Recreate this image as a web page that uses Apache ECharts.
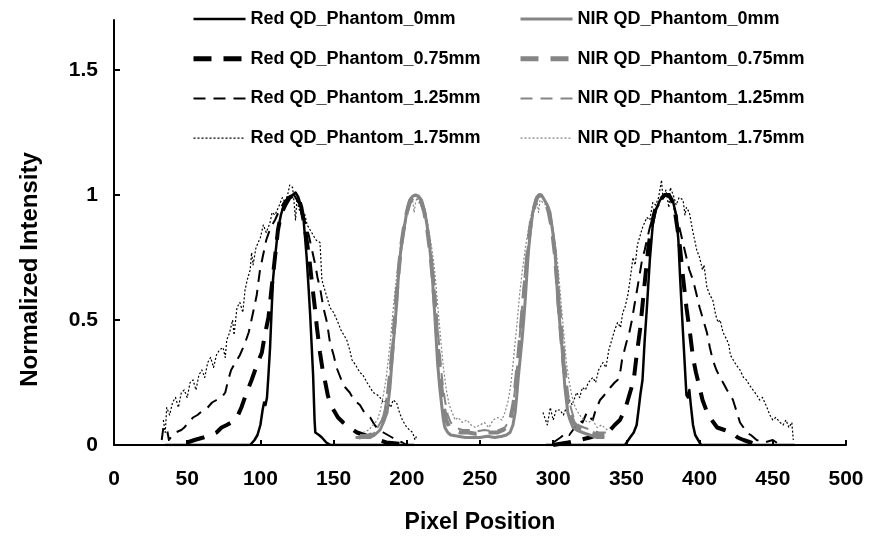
<!DOCTYPE html>
<html><head><meta charset="utf-8">
<script src="https://cdn.jsdelivr.net/npm/echarts@6/dist/echarts.min.js"></script>
<style>html,body{margin:0;padding:0;background:#fff}#c{width:872px;height:539px}</style>
</head><body><div id="c"></div>
<script>
// ---- data ----
const seriesNames = [
  'Red QD_Phantom_0mm','Red QD_Phantom_0.75mm','Red QD_Phantom_1.25mm','Red QD_Phantom_1.75mm',
  'NIR QD_Phantom_0mm','NIR QD_Phantom_0.75mm','NIR QD_Phantom_1.25mm','NIR QD_Phantom_1.75mm'
];
const yTickValues = [0, 0.5, 1, 1.5];

const red0Left = [[35,0],[60,0],[85,0],[93,0],[96,0.02],[98,0.04],[100,0.08],[101.5,0.14],[102.5,0.17],[103.5,0.16],[104.5,0.19],[105.5,0.28],[106.6,0.39],[107.6,0.53],[108.6,0.66],[110,0.75],[112,0.86],[114,0.92],[116,0.96],[119,0.99],[122,1.0],[124,1.01],[126,0.99],[128,0.95],[129.5,0.9],[130.5,0.83],[131.6,0.75],[133,0.62],[134,0.52],[135,0.4],[136,0.28],[137,0.1],[137.5,0.05],[140,0.04],[142,0.03],[145,0.01],[148,0],[170,0],[205,0]];
const red0Right = [[295,0],[330,0],[349,0],[352.5,0.03],[355,0.05],[357,0.08],[358.5,0.15],[359.5,0.2],[361,0.26],[362.5,0.42],[364,0.55],[366,0.74],[368,0.88],[370,0.94],[373,0.98],[376,1.0],[378,1.0],[380,0.99],[382,0.97],[384,0.92],[385.5,0.82],[386.6,0.68],[388,0.52],[389.5,0.36],[391,0.2],[392,0.19],[393,0.22],[394,0.16],[395.5,0.08],[397,0.04],[399,0.02],[401,0],[430,0],[465,0]];

const red075Left = [[50,0.01],[55,0.02],[61,0.03],[66,0.04],[70,0.05],[73.5,0.07],[77,0.08],[80,0.09],[84,0.11],[87,0.15],[90,0.2],[94,0.26],[97,0.31],[101,0.37],[103,0.44],[105.5,0.51],[107.5,0.62],[109,0.7],[110.5,0.78],[112,0.86],[114,0.92],[117,0.96],[120,0.99],[123,1.0],[126,0.99],[128,0.95],[130,0.88],[131.6,0.82],[133.5,0.74],[135,0.66],[137,0.56],[138.6,0.47],[140.7,0.37],[142.5,0.3],[144,0.26],[146,0.2],[148,0.16],[150,0.14],[153,0.11],[156.5,0.09],[161,0.07],[166,0.05],[171,0.04],[176,0.03],[181,0.02],[186,0.01],[195,0.005],[203,0]];
const red075Right = [[300,0],[310,0.01],[318,0.02],[325,0.03],[330,0.04],[335,0.05],[339,0.06],[342,0.08],[345.6,0.1],[348,0.13],[350,0.16],[352.5,0.21],[355,0.26],[357,0.36],[359.3,0.46],[361,0.56],[362.7,0.66],[365,0.79],[366.5,0.85],[368,0.9],[370,0.95],[373,0.98],[376,1.0],[379,1.0],[381,0.98],[383,0.94],[385,0.86],[386.6,0.79],[388.7,0.67],[391,0.55],[393.4,0.45],[395.5,0.35],[397.5,0.29],[400,0.23],[402,0.18],[404.5,0.14],[407,0.11],[409.5,0.09],[412,0.07],[417,0.06],[422,0.05],[426,0.03],[430,0.02],[435,0.01],[440,0]];

const red125Left = [[32.6,0.02],[33.7,0.07],[36,0.07],[37.5,0.02],[40,0.04],[42,0.05],[46,0.06],[48,0.07],[51,0.09],[54,0.11],[57,0.12],[61,0.14],[64,0.15],[67,0.17],[70,0.18],[73.5,0.19],[76,0.21],[78,0.26],[80,0.3],[83,0.33],[86,0.36],[89,0.4],[92,0.45],[95,0.53],[97.5,0.6],[99.7,0.7],[101.5,0.75],[104,0.82],[107,0.87],[110,0.9],[113,0.94],[116,0.97],[119,0.99],[121,1.01],[123,1.0],[125,0.98],[127,0.96],[129,0.93],[131,0.88],[133,0.84],[134.5,0.8],[136,0.76],[137.5,0.72],[139,0.67],[141,0.62],[143,0.55],[145.5,0.49],[147.5,0.41],[150,0.36],[152,0.31],[154,0.28],[156,0.25],[158,0.23],[161,0.21],[164,0.18],[168,0.16],[171,0.13],[175,0.11],[178,0.08],[181,0.06],[184,0.05],[187,0.04],[190,0.03],[193,0.02],[197,0.01],[200,0]];
const red125Right = [[300,0.01],[305,0.03],[309,0.05],[311,0.04],[313.5,0.06],[316,0.08],[318,0.1],[320,0.09],[323,0.13],[325,0.11],[327,0.1],[329,0.14],[332,0.18],[335,0.2],[339,0.23],[342,0.25],[344,0.26],[346,0.3],[347,0.34],[350,0.41],[352,0.45],[353.8,0.5],[355.5,0.56],[357,0.61],[359,0.68],[360.7,0.74],[362.5,0.78],[364,0.82],[366,0.87],[367.5,0.9],[370,0.94],[372,0.96],[375,0.99],[378,1.0],[381,0.98],[384,0.92],[386.6,0.86],[389,0.8],[391,0.75],[393,0.7],[395.5,0.66],[398,0.6],[400,0.55],[402.5,0.5],[405,0.45],[407,0.39],[409,0.34],[411.5,0.3],[414,0.27],[416,0.25],[418.7,0.22],[421,0.2],[422.8,0.18],[425.5,0.13],[427.6,0.09],[430,0.07],[432,0.05],[435,0.04],[439,0.02],[444,0.01],[450,0.02],[455,0]];

const red175Left = [[33.7,0.1],[35,0.05],[36,0.15],[38,0.12],[40,0.17],[42,0.19],[44,0.15],[46,0.21],[48,0.22],[50,0.19],[52,0.25],[54,0.26],[56,0.22],[58,0.28],[60,0.3],[62,0.27],[64,0.33],[66,0.35],[68,0.31],[70,0.36],[72,0.38],[74.5,0.39],[76,0.35],[77,0.42],[79,0.45],[81,0.5],[82,0.44],[84,0.55],[86,0.57],[88,0.53],[89.5,0.62],[91,0.66],[93,0.7],[94,0.77],[95,0.72],[97,0.79],[100,0.83],[102,0.88],[104,0.85],[106.6,0.89],[108,0.93],[110,0.92],[113,0.96],[115,0.99],[117,0.97],[119,1.01],[120,1.04],[122,1.03],[123,0.97],[124,0.9],[125,0.99],[126,0.95],[128,0.92],[130,0.93],[132,0.88],[134,0.86],[136,0.84],[138,0.82],[140.7,0.81],[141.5,0.72],[142,0.66],[144,0.62],[146,0.58],[147.5,0.55],[150,0.53],[153,0.49],[155,0.46],[157,0.44],[159,0.42],[161,0.38],[162.6,0.34],[165,0.32],[168,0.29],[170,0.28],[172.8,0.25],[175,0.23],[177,0.21],[180,0.2],[181.7,0.19],[184,0.17],[186.5,0.18],[189,0.15],[190.6,0.18],[193,0.17],[195,0.13],[197,0.1],[200,0.07],[202,0.06],[204,0.05],[205.6,0.02],[207,0.04]];
const red175Right = [[293,0.13],[296,0.08],[298,0.15],[300,0.1],[302,0.14],[304.6,0.14],[307,0.12],[309,0.15],[311,0.18],[313,0.16],[316,0.21],[318,0.19],[320,0.23],[322,0.22],[324,0.25],[327,0.27],[329,0.25],[331,0.3],[334,0.33],[336,0.31],[338,0.38],[340,0.42],[342,0.46],[344,0.49],[346,0.47],[347.5,0.53],[349,0.55],[351,0.6],[352.5,0.66],[354.5,0.75],[356,0.72],[357.5,0.8],[359,0.83],[361,0.87],[364,0.91],[366,0.9],[368,0.97],[370,0.96],[372,0.99],[374,1.06],[375,0.98],[377,1.02],[379,0.95],[380,1.03],[382,1.0],[384,0.96],[386,0.99],[388.7,0.98],[390,0.92],[391,0.95],[393,0.93],[395.5,0.85],[397,0.81],[398,0.78],[400,0.75],[402,0.7],[403,0.72],[405,0.63],[407,0.6],[409,0.58],[411,0.52],[412.6,0.49],[414,0.5],[416,0.45],[418.7,0.42],[420,0.4],[421,0.36],[423,0.34],[425,0.32],[427.6,0.3],[430,0.27],[432,0.26],[434,0.24],[436.5,0.22],[439,0.2],[441,0.18],[443,0.19],[446,0.15],[448,0.12],[450,0.1],[452,0.11],[455,0.09],[457,0.08],[459,0.1],[461,0.07],[463,0.09],[464,0.02]];

const nir0 = [[165,0.03],[170,0.03],[175,0.03],[178,0.04],[181.7,0.06],[184,0.09],[186.5,0.13],[188.5,0.23],[190.6,0.39],[192,0.49],[193,0.56],[194,0.65],[195,0.73],[196.5,0.81],[198.8,0.89],[200.5,0.95],[202,0.98],[204,0.995],[206,1.0],[208,0.995],[210,0.98],[212,0.94],[213.8,0.88],[215.5,0.8],[217,0.71],[218,0.62],[219,0.53],[220,0.43],[221,0.33],[222.5,0.23],[224,0.15],[225,0.1],[226,0.07],[228,0.05],[230,0.04],[235,0.035],[240,0.03],[245,0.03],[250,0.03],[255,0.035],[260,0.03],[265,0.035],[268,0.04],[270.5,0.05],[272.5,0.08],[274,0.13],[275,0.19],[276,0.26],[277.5,0.35],[278.7,0.42],[280,0.51],[281,0.59],[282,0.68],[283,0.77],[284.5,0.86],[286,0.93],[288,0.98],[290,1.0],[292,1.0],[294,0.98],[296,0.96],[297.8,0.93],[299.5,0.86],[301,0.79],[302,0.7],[303,0.59],[304.5,0.49],[306,0.39],[307,0.31],[308,0.23],[309,0.18],[310,0.13],[311.5,0.1],[313.5,0.07],[316,0.06],[320,0.05],[325,0.04],[330,0.03],[335,0.03]];
const nir075 = [[167,0.03],[172,0.035],[177,0.04],[181,0.06],[184,0.1],[186,0.15],[188,0.25],[190,0.37],[191.5,0.48],[193,0.6],[194.5,0.7],[196,0.79],[198,0.87],[200,0.93],[202,0.97],[204,0.99],[206,1.0],[208,0.99],[210,0.97],[212,0.93],[214,0.86],[216,0.77],[217.5,0.68],[219,0.57],[220.5,0.45],[222,0.34],[223.5,0.24],[225,0.16],[227,0.1],[229,0.07],[232,0.06],[237,0.05],[242,0.05],[247,0.045],[252,0.05],[257,0.05],[262,0.05],[266,0.06],[269,0.08],[271,0.11],[273,0.17],[274.5,0.25],[276,0.34],[277.5,0.44],[279,0.54],[280.5,0.64],[282,0.74],[283.5,0.83],[285,0.9],[287,0.95],[289,0.99],[291,1.0],[293,0.99],[295,0.97],[297,0.93],[299,0.87],[301,0.77],[302.5,0.66],[304,0.54],[305.5,0.43],[307,0.33],[308.5,0.24],[310,0.17],[312,0.12],[314,0.09],[317,0.07],[321,0.06],[326,0.05],[331,0.04],[335,0.04]];
const nir125 = [[168,0.04],[173,0.04],[177,0.05],[180,0.07],[183,0.1],[185,0.14],[187,0.22],[189,0.33],[191,0.46],[192.5,0.57],[194,0.67],[196,0.77],[198,0.86],[200,0.92],[202,0.96],[204,0.99],[206,1.0],[208,0.99],[210,0.97],[212,0.94],[214,0.88],[216,0.8],[218,0.7],[219.5,0.6],[221,0.48],[222.5,0.37],[224,0.27],[226,0.18],[228,0.12],[230,0.09],[233,0.07],[238,0.06],[243,0.06],[248,0.055],[253,0.06],[258,0.055],[263,0.06],[267,0.07],[270,0.1],[272,0.14],[273.5,0.2],[275,0.29],[276.5,0.39],[278,0.5],[279.5,0.61],[281,0.71],[283,0.81],[285,0.89],[287,0.95],[289,0.99],[291,1.0],[293,0.99],[295,0.97],[297,0.94],[299,0.89],[301,0.81],[302.5,0.72],[304,0.61],[305.5,0.5],[307,0.4],[308.5,0.3],[310,0.21],[312,0.15],[314,0.11],[317,0.08],[321,0.07],[326,0.06],[331,0.05],[336,0.05]];
const nir175 = [[170,0.05],[174,0.06],[177,0.08],[180,0.1],[182,0.14],[184,0.2],[186,0.27],[187.5,0.35],[189,0.43],[190.5,0.53],[192,0.62],[194,0.72],[196,0.81],[198,0.88],[200,0.93],[202,0.96],[204,0.98],[205,0.93],[206,0.97],[207,0.99],[209,0.96],[211,0.95],[213,0.92],[215,0.86],[217,0.79],[219,0.7],[220.5,0.6],[222,0.5],[223.5,0.4],[225,0.31],[227,0.22],[229,0.16],[231,0.13],[233,0.1],[235,0.11],[238,0.09],[241,0.1],[244,0.08],[247,0.07],[250,0.08],[253,0.09],[256,0.07],[259,0.1],[262,0.11],[265,0.1],[267,0.13],[269,0.17],[271,0.24],[272.5,0.32],[274,0.41],[275.5,0.5],[277,0.6],[279,0.7],[281,0.79],[283,0.86],[285,0.92],[287,0.96],[289,0.97],[290,0.93],[291,0.98],[293,0.97],[295,0.96],[297,0.93],[299,0.88],[301,0.82],[303,0.73],[304.5,0.63],[306,0.53],[307.5,0.43],[309,0.33],[311,0.25],[313,0.19],[315,0.15],[318,0.12],[321,0.1],[324,0.09],[327,0.1],[330,0.07],[333,0.08],[337,0.06]];

// ---- styles ----
const BLACK = '#000000', GRAY = '#858585';
const FONT = '"Liberation Sans", Arial, sans-serif';
const styles = [
  {color: BLACK, width: 2.5, type: 'solid'},
  {color: BLACK, width: 4, type: [18, 12]},
  {color: BLACK, width: 2, type: [12, 8]},
  {color: BLACK, width: 1.2, type: [2, 2]},
  {color: GRAY, width: 3, type: 'solid'},
  {color: GRAY, width: 4, type: [18, 12]},
  {color: GRAY, width: 2, type: [12, 8]},
  {color: GRAY, width: 1.2, type: [2, 2]}
];
const GAP = [[250, '-']];
const dataList = [
  red0Left.concat(GAP, red0Right),
  red075Left.concat(GAP, red075Right),
  red125Left.concat(GAP, red125Right),
  red175Left.concat(GAP, red175Right),
  nir0, nir075, nir125, nir175
];

const series = seriesNames.map((n, i) => ({
  name: n, type: 'line', data: dataList[i], symbol: 'none', showSymbol: false,
  connectNulls: false, smooth: false, animation: false,
  lineStyle: {color: styles[i].color, width: styles[i].width, type: styles[i].type, cap: 'butt', join: 'round'},
  itemStyle: {color: styles[i].color}
}));

function legendData(from, to) {
  return seriesNames.slice(from, to).map((n, k) => {
    const s = styles[from + k];
    return {name: n, lineStyle: {color: s.color, width: s.width === 4 ? 5 : s.width, type: s.type}};
  });
}
const legendCommon = {
  orient: 'vertical', top: 4, itemWidth: 52, itemHeight: 14, itemGap: 19.7,
  itemStyle: {opacity: 0},
  textStyle: {fontFamily: FONT, fontWeight: 'bold', fontSize: 18, color: '#000', lineHeight: 20},
  selectedMode: false
};

const chart = echarts.init(document.getElementById('c'), null, {renderer: 'canvas'});
chart.setOption({
  animation: false,
  backgroundColor: '#fff',
  legend: [
    Object.assign({}, legendCommon, {left: 186, data: legendData(0, 4)}),
    Object.assign({}, legendCommon, {left: 513, data: legendData(4, 8)})
  ],
  grid: {left: 114, right: 26, top: 20, bottom: 94},
  xAxis: {
    type: 'value', min: 0, max: 500, interval: 50,
    name: 'Pixel Position', nameLocation: 'middle', nameGap: 66,
    nameTextStyle: {fontFamily: FONT, fontWeight: 'bold', fontSize: 23, color: '#000'},
    axisLine: {lineStyle: {color: '#000', width: 2}},
    axisTick: {inside: true, length: 5, lineStyle: {color: '#000', width: 2}},
    axisLabel: {margin: 24, fontFamily: FONT, fontWeight: 'bold', fontSize: 21, color: '#000'},
    splitLine: {show: false}
  },
  yAxis: {
    type: 'value', min: 0, max: 1.7, interval: 0.5,
    name: 'Normalized Intensity', nameLocation: 'middle', nameGap: 72,
    nameTextStyle: {fontFamily: FONT, fontWeight: 'bold', fontSize: 24, color: '#000', padding: [0, 74, 0, 0]},
    axisLine: {show: true, lineStyle: {color: '#000', width: 2}},
    axisTick: {show: true, inside: true, length: 6, lineStyle: {color: '#000', width: 2}, customValues: yTickValues},
    axisLabel: {margin: 16, fontFamily: FONT, fontWeight: 'bold', fontSize: 21, color: '#000', customValues: yTickValues},
    splitLine: {show: false}
  },
  series: series
});
</script></body></html>
